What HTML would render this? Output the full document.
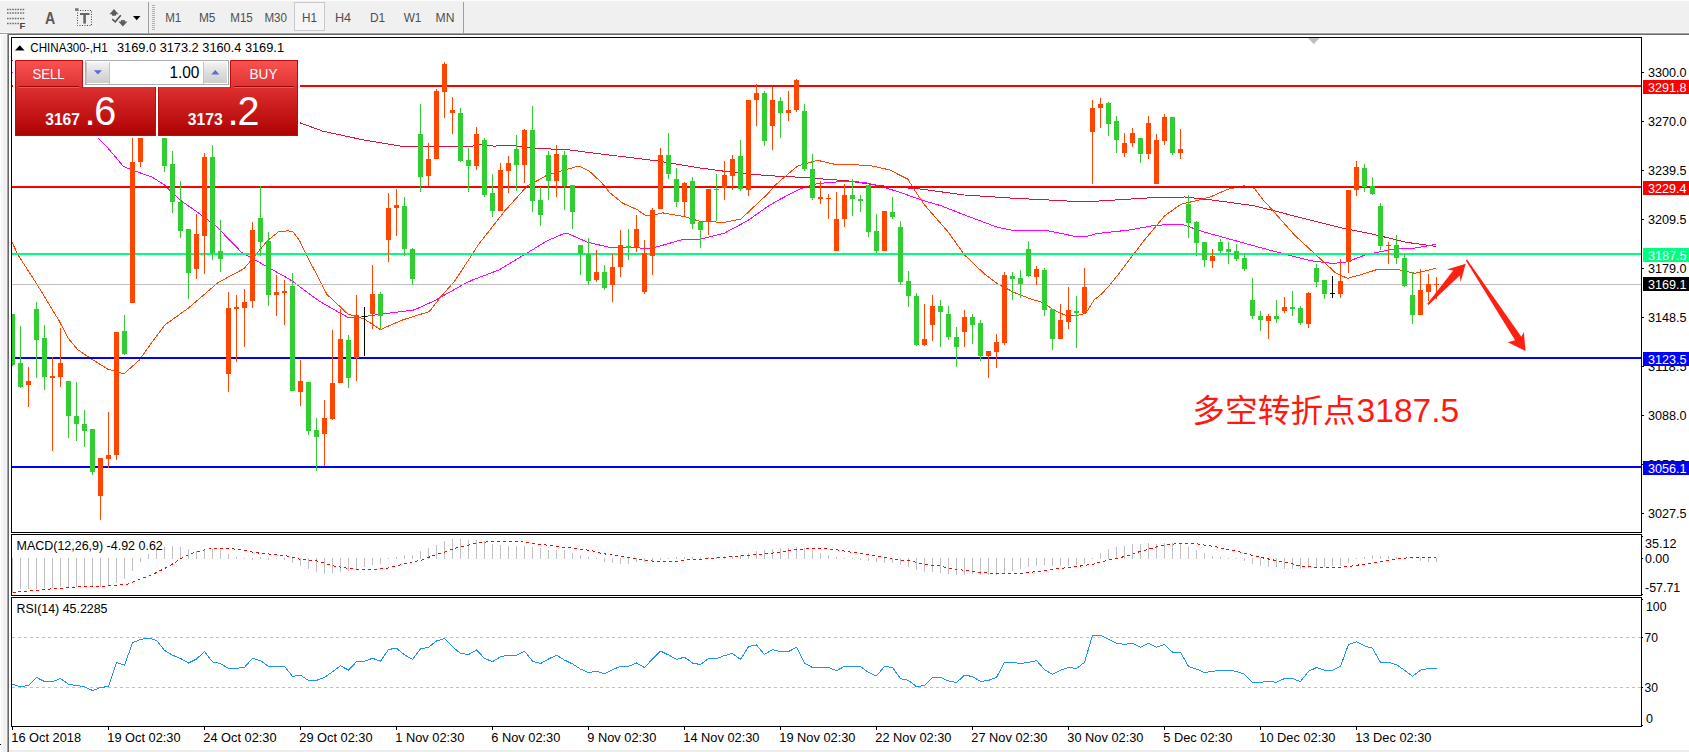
<!DOCTYPE html>
<html lang="zh"><head><meta charset="utf-8"><title>CHINA300-,H1</title>
<style>html,body{margin:0;padding:0;background:#fff;overflow:hidden}svg{display:block}text{font-family:"Liberation Sans","Noto Sans CJK SC",sans-serif;white-space:pre}.c{shape-rendering:crispEdges}</style></head><body>
<svg width="1689" height="752" viewBox="0 0 1689 752">
<defs>
<linearGradient id="gb" x1="0" y1="0" x2="0" y2="1"><stop offset="0" stop-color="#fb5252"/><stop offset="1" stop-color="#de3232"/></linearGradient>
<linearGradient id="gp" x1="0" y1="0" x2="0" y2="1"><stop offset="0" stop-color="#dd3030"/><stop offset="0.5" stop-color="#c61818"/><stop offset="1" stop-color="#ad0202"/></linearGradient>
<linearGradient id="gs" x1="0" y1="0" x2="0" y2="1"><stop offset="0" stop-color="#f4f4f4"/><stop offset="0.5" stop-color="#dedede"/><stop offset="1" stop-color="#cdcdcd"/></linearGradient>
<clipPath id="cm"><rect x="12" y="38" width="1629" height="494"/></clipPath>
</defs>
<g class="c">
<rect x="0" y="0" width="1689" height="752" fill="#fff"/>
<rect x="0" y="0" width="1689" height="33" fill="#f0f0f0"/>
<rect x="0" y="0" width="1689" height="1" fill="#fcfcfc"/>
<rect x="0" y="32" width="1689" height="1" fill="#f6f6f6"/>
<rect x="0" y="33" width="1689" height="1" fill="#a0a0a0"/>
<rect x="0" y="34" width="1689" height="1" fill="#696969"/>
<rect x="0" y="34" width="7" height="718" fill="#f0f0f0"/>
<rect x="0" y="35" width="1" height="717" fill="#ffffff"/>
<rect x="1" y="35" width="1" height="717" fill="#f5f5f5"/>
<rect x="2" y="35" width="1" height="717" fill="#fafafa"/>
<rect x="0" y="34" width="7" height="1" fill="#ffffff"/>
<rect x="6" y="35" width="1" height="717" fill="#f5f5f5"/>
<rect x="7" y="34" width="1" height="718" fill="#a0a0a0"/>
<rect x="8" y="34" width="1" height="718" fill="#696969"/>
<rect x="9" y="750" width="1680" height="2" fill="#ececec"/>
<rect x="0" y="744" width="1" height="1" fill="#000"/>
<rect x="148" y="2" width="1" height="31" fill="#a0a0a0"/>
<rect x="463" y="2" width="1" height="31" fill="#a0a0a0"/>
<rect x="152" y="5" width="3" height="1" fill="#b0b0b0"/>
<rect x="152" y="7" width="3" height="1" fill="#b0b0b0"/>
<rect x="152" y="9" width="3" height="1" fill="#b0b0b0"/>
<rect x="152" y="11" width="3" height="1" fill="#b0b0b0"/>
<rect x="152" y="13" width="3" height="1" fill="#b0b0b0"/>
<rect x="152" y="15" width="3" height="1" fill="#b0b0b0"/>
<rect x="152" y="17" width="3" height="1" fill="#b0b0b0"/>
<rect x="152" y="19" width="3" height="1" fill="#b0b0b0"/>
<rect x="152" y="21" width="3" height="1" fill="#b0b0b0"/>
<rect x="152" y="23" width="3" height="1" fill="#b0b0b0"/>
<rect x="152" y="25" width="3" height="1" fill="#b0b0b0"/>
<rect x="152" y="27" width="3" height="1" fill="#b0b0b0"/>
<rect x="152" y="29" width="3" height="1" fill="#b0b0b0"/>
<rect x="294" y="2" width="31" height="29" fill="#f6f6f6"/>
<rect x="294.5" y="2.5" width="30" height="28" fill="none" stroke="#c9c9c9" stroke-width="1"/>
</g>
<g fill="none" stroke="#5f5f5f">
<line x1="7" y1="9.5" x2="25" y2="9.5" stroke-width="1.6" stroke-dasharray="1.6 1" stroke="#707070"/>
<line x1="7" y1="13" x2="25" y2="13" stroke-width="1.6" stroke-dasharray="1.6 1" stroke="#707070"/>
<line x1="7" y1="18.5" x2="25" y2="18.5" stroke-width="1.6" stroke-dasharray="1.6 1" stroke="#707070"/>
<line x1="7" y1="23.5" x2="20" y2="23.5" stroke-width="1.6" stroke-dasharray="1.6 1" stroke="#707070"/>
<rect x="77.5" y="10.5" width="14" height="15" stroke-width="1" stroke-dasharray="1 1.5" stroke="#444"/>
<path d="M80 14h9.5" stroke-width="2" stroke="#666"/><path d="M84.6 14v9.6" stroke-width="2.6" stroke="#666"/>
<path d="M112.2 19.2l3 2.6 5.6-6.6" stroke-width="1.6" stroke="#555"/>
</g>
<g fill="#5c5c5c">
<path d="M109.5 14.3l4.5-5.2 4.5 5.2z"/><rect x="112" y="14" width="4" height="1.7"/>
<path d="M118.4 21.6l4.5 4.8 4.5-4.8z"/><rect x="120.9" y="20.1" width="4" height="1.7"/>
<path d="M75 8.2h3.5v2.6h-3.5z" fill="#777"/>
</g>
<path d="M133 16h7.4l-3.7 4.2z" fill="#000"/>
<text x="19.5" y="28.8" font-size="9.5" fill="#444" font-weight="bold">F</text>
<text x="45" y="23.8" font-size="16.5" fill="#5a5a5a" textLength="10.2" lengthAdjust="spacingAndGlyphs" font-weight="bold">A</text>
<text x="165.15" y="22.2" font-size="12" fill="#4f4f4f" textLength="16.1" lengthAdjust="spacingAndGlyphs">M1</text>
<text x="198.95" y="22.2" font-size="12" fill="#4f4f4f" textLength="16.5" lengthAdjust="spacingAndGlyphs">M5</text>
<text x="230.25" y="22.2" font-size="12" fill="#4f4f4f" textLength="22.5" lengthAdjust="spacingAndGlyphs">M15</text>
<text x="264.4" y="22.2" font-size="12" fill="#4f4f4f" textLength="22.6" lengthAdjust="spacingAndGlyphs">M30</text>
<text x="302" y="22.2" font-size="12" fill="#4f4f4f" textLength="15" lengthAdjust="spacingAndGlyphs">H1</text>
<text x="334.9" y="22.2" font-size="12" fill="#4f4f4f" textLength="16.2" lengthAdjust="spacingAndGlyphs">H4</text>
<text x="370" y="22.2" font-size="12" fill="#4f4f4f" textLength="15.2" lengthAdjust="spacingAndGlyphs">D1</text>
<text x="403.65" y="22.2" font-size="12" fill="#4f4f4f" textLength="17.7" lengthAdjust="spacingAndGlyphs">W1</text>
<text x="435.55" y="22.2" font-size="12" fill="#4f4f4f" textLength="18.9" lengthAdjust="spacingAndGlyphs">MN</text>
<g class="c">
<rect x="11" y="37" width="1631" height="1" fill="#000"/>
<rect x="11" y="532" width="1631" height="1" fill="#000"/>
<rect x="11" y="37" width="1" height="496" fill="#000"/>
<rect x="1641" y="37" width="1" height="496" fill="#000"/>
<rect x="11" y="534" width="1631" height="1" fill="#000"/>
<rect x="11" y="595" width="1631" height="1" fill="#000"/>
<rect x="11" y="534" width="1" height="62" fill="#000"/>
<rect x="1641" y="534" width="1" height="62" fill="#000"/>
<rect x="11" y="597" width="1631" height="1" fill="#000"/>
<rect x="11" y="726" width="1631" height="1" fill="#000"/>
<rect x="11" y="597" width="1" height="130" fill="#000"/>
<rect x="1641" y="597" width="1" height="130" fill="#000"/>
</g>
<g clip-path="url(#cm)">
<path d="M1308 38h11.5l-5.75 6.3z" fill="#c0c0c0"/>
<polyline points="12,60 300,122.8 322.9,131.2 362.8,139.8 401,146.1 417.7,146.8 471,146.5 479.2,144.8 494.2,146.1 509.1,145.1 537.4,148.4 568,149.8 601.3,154 657.8,161 701,168.1 734.3,172.6 767.5,175.6 800.8,177.3 834,179.8 848,180.9 881.3,185.8 921.2,189.1 964.4,195 1014.3,198.3 1047.5,199.9 1072.5,201.3 1094.1,201.3 1119.9,199.7 1153.2,197.6 1184.5,197 1211.1,199.9 1254.4,205.8 1294.3,216 1340,227.6 1373.3,234.3 1406.5,242.3 1435.6,246.4" fill="none" stroke="#dc143c" stroke-width="1" class="c"/>
<polyline points="12,72 97.8,137.8 107.8,148 123.6,166.6 131.9,169.9 152.7,177.4 164.3,184.9 181,200.7 197.6,212.3 207.5,219.8 215,225 241.6,252.4 288,278.4 293,281.7 310.4,294.7 321.3,302.4 347.9,317.4 354.5,317.9 381.1,314.1 414.4,309.9 434.3,300.8 445.1,294.7 464.3,283.9 472.6,280 499.2,269.8 524.1,254.8 547.4,240.7 564,233.5 568,233.5 588,242.4 609.6,247.3 634.5,247.3 647.8,249 661.1,245.7 684.4,239 701,239 724.3,233.2 747.6,220.7 767.5,206.6 779.2,199.7 800.8,188.6 817.4,183.6 848,181 864.6,182.5 881.3,186.6 897.9,191.6 921.2,199.9 941.1,205.8 964.4,214.9 997.7,227.4 1014.3,230.7 1047.5,230.7 1075.8,236.5 1085.8,236.5 1097.4,233.5 1128,230.2 1152.9,225.7 1169.6,224.4 1182.9,224.6 1202.8,231.6 1244.4,243.2 1277.7,252.3 1294.3,256.5 1310.9,260.7 1330.9,263.2 1344.2,262.8 1365,255.1 1375.7,252.6 1394.9,248.9 1414.8,248.1 1435.6,244.4" fill="none" stroke="#ff00ff" stroke-width="1" class="c"/>
<polyline points="12.2,242.5 18,255 36.3,283.2 59.5,321.4 67.9,338 77.8,349.7 87.8,356.6 107.8,369.1 123.9,373.8 139.4,360 146,350.5 152.7,341.3 165.1,324.8 188.4,308.1 218.3,282.4 244.1,268.6 267.4,240.8 278.2,232 288,230.7 293,231.9 299.6,240.7 306.3,254.8 319.6,280 327.1,294.7 331.2,298.3 347.9,314.1 364.5,319.1 380.3,329.6 402.7,319.9 429.3,311.6 441,296.6 454.3,281.5 470.9,256.5 477.6,245.7 504.2,211.6 527.4,185.8 539,179.7 547.4,175 568,169 578.8,166.1 589.6,171.4 601.3,182.3 609.6,192.5 622.9,203.3 637.8,209.9 645.3,215.4 654.5,214.9 662.8,212.9 684.4,216.6 699.4,221.2 724.3,222.4 740.9,219.1 755.9,204.9 767.5,194.1 775.8,184.7 789.1,173.1 797.5,166.1 817.4,160.3 835.7,164.5 848,164.5 870,165.5 890,170 899.5,175 907.9,179.2 914.5,190 924.5,204.9 947.8,231.5 964.4,254.8 984.4,273.9 997.7,284 1014.3,292.5 1030.9,299 1042.5,302.4 1052.5,309.1 1064.2,314.9 1075.8,316 1085.8,313.2 1094.1,300 1102.4,293.3 1114,280 1128,261.5 1144.6,239.9 1164.6,215.8 1181.2,204.1 1199.5,200 1211.1,196.6 1227.8,189.2 1244.4,185.8 1254.4,188.3 1262.9,199.7 1269.3,206.6 1294.3,234.9 1315.9,254.8 1335.9,273.1 1347.5,278.3 1360.8,274.8 1377.4,269.4 1396.5,269.2 1403.2,270.6 1414.8,273.3 1435.6,268.5" fill="none" stroke="#ff4500" stroke-width="1" class="c"/>
<g class="c">
<rect x="12" y="85" width="1629" height="2" fill="#ff0000"/>
<rect x="12" y="186" width="1629" height="2" fill="#ff0000"/>
<rect x="12" y="253" width="1629" height="2" fill="#00ff7f"/>
<rect x="12" y="284" width="1629" height="1" fill="#c0c0c0"/>
<rect x="12" y="357" width="1629" height="2" fill="#0000ff"/>
<rect x="12" y="466" width="1629" height="2" fill="#0000ff"/>
</g>
<g class="c">
<rect x="12" y="314" width="1" height="52" fill="#32cd32"/>
<rect x="10" y="314" width="5" height="51" fill="#32cd32"/>
<rect x="20" y="326" width="1" height="62" fill="#32cd32"/>
<rect x="18" y="363" width="5" height="24" fill="#32cd32"/>
<rect x="28" y="367" width="1" height="40" fill="#ff4500"/>
<rect x="26" y="381" width="5" height="4" fill="#ff4500"/>
<rect x="36" y="302" width="1" height="76" fill="#32cd32"/>
<rect x="34" y="309" width="5" height="31" fill="#32cd32"/>
<rect x="44" y="325" width="1" height="65" fill="#32cd32"/>
<rect x="42" y="338" width="5" height="39" fill="#32cd32"/>
<rect x="52" y="357" width="1" height="94" fill="#ff4500"/>
<rect x="50" y="376" width="5" height="2" fill="#ff4500"/>
<rect x="60" y="328" width="1" height="59" fill="#ff4500"/>
<rect x="58" y="363" width="5" height="14" fill="#ff4500"/>
<rect x="68" y="381" width="1" height="57" fill="#32cd32"/>
<rect x="66" y="381" width="5" height="35" fill="#32cd32"/>
<rect x="76" y="382" width="1" height="59" fill="#32cd32"/>
<rect x="74" y="416" width="5" height="8" fill="#32cd32"/>
<rect x="84" y="410" width="1" height="37" fill="#32cd32"/>
<rect x="82" y="424" width="5" height="7" fill="#32cd32"/>
<rect x="92" y="429" width="1" height="46" fill="#32cd32"/>
<rect x="90" y="429" width="5" height="43" fill="#32cd32"/>
<rect x="100" y="458" width="1" height="62" fill="#ff4500"/>
<rect x="98" y="458" width="5" height="38" fill="#ff4500"/>
<rect x="108" y="412" width="1" height="56" fill="#ff4500"/>
<rect x="106" y="455" width="5" height="4" fill="#ff4500"/>
<rect x="116" y="332" width="1" height="128" fill="#ff4500"/>
<rect x="114" y="332" width="5" height="123" fill="#ff4500"/>
<rect x="124" y="315" width="1" height="40" fill="#32cd32"/>
<rect x="122" y="331" width="5" height="23" fill="#32cd32"/>
<rect x="132" y="118" width="1" height="185" fill="#ff4500"/>
<rect x="130" y="162" width="5" height="141" fill="#ff4500"/>
<rect x="140" y="100" width="1" height="67" fill="#ff4500"/>
<rect x="138" y="110" width="5" height="52" fill="#ff4500"/>
<rect x="148" y="88" width="1" height="46" fill="#32cd32"/>
<rect x="146" y="96" width="5" height="32" fill="#32cd32"/>
<rect x="156" y="100" width="1" height="37" fill="#32cd32"/>
<rect x="154" y="118" width="5" height="18" fill="#32cd32"/>
<rect x="164" y="120" width="1" height="52" fill="#32cd32"/>
<rect x="162" y="128" width="5" height="38" fill="#32cd32"/>
<rect x="172" y="151" width="1" height="62" fill="#32cd32"/>
<rect x="170" y="164" width="5" height="38" fill="#32cd32"/>
<rect x="180" y="181" width="1" height="57" fill="#32cd32"/>
<rect x="178" y="202" width="5" height="29" fill="#32cd32"/>
<rect x="188" y="229" width="1" height="70" fill="#32cd32"/>
<rect x="186" y="229" width="5" height="44" fill="#32cd32"/>
<rect x="196" y="214" width="1" height="65" fill="#ff4500"/>
<rect x="194" y="234" width="5" height="35" fill="#ff4500"/>
<rect x="204" y="153" width="1" height="121" fill="#ff4500"/>
<rect x="202" y="157" width="5" height="79" fill="#ff4500"/>
<rect x="212" y="145" width="1" height="115" fill="#32cd32"/>
<rect x="210" y="157" width="5" height="96" fill="#32cd32"/>
<rect x="220" y="220" width="1" height="52" fill="#32cd32"/>
<rect x="218" y="251" width="5" height="8" fill="#32cd32"/>
<rect x="228" y="292" width="1" height="100" fill="#ff4500"/>
<rect x="226" y="308" width="5" height="66" fill="#ff4500"/>
<rect x="236" y="295" width="1" height="67" fill="#ff4500"/>
<rect x="234" y="307" width="5" height="2" fill="#ff4500"/>
<rect x="244" y="289" width="1" height="58" fill="#ff4500"/>
<rect x="242" y="302" width="5" height="6" fill="#ff4500"/>
<rect x="252" y="222" width="1" height="86" fill="#ff4500"/>
<rect x="250" y="230" width="5" height="71" fill="#ff4500"/>
<rect x="260" y="186" width="1" height="70" fill="#32cd32"/>
<rect x="258" y="218" width="5" height="24" fill="#32cd32"/>
<rect x="268" y="232" width="1" height="74" fill="#32cd32"/>
<rect x="266" y="241" width="5" height="54" fill="#32cd32"/>
<rect x="276" y="275" width="1" height="41" fill="#ff4500"/>
<rect x="274" y="292" width="5" height="3" fill="#ff4500"/>
<rect x="284" y="280" width="1" height="45" fill="#ff4500"/>
<rect x="282" y="291" width="5" height="2" fill="#ff4500"/>
<rect x="292" y="273" width="1" height="118" fill="#32cd32"/>
<rect x="290" y="286" width="5" height="105" fill="#32cd32"/>
<rect x="300" y="360" width="1" height="46" fill="#ff4500"/>
<rect x="298" y="381" width="5" height="11" fill="#ff4500"/>
<rect x="308" y="382" width="1" height="53" fill="#32cd32"/>
<rect x="306" y="382" width="5" height="49" fill="#32cd32"/>
<rect x="316" y="418" width="1" height="53" fill="#32cd32"/>
<rect x="314" y="430" width="5" height="7" fill="#32cd32"/>
<rect x="324" y="400" width="1" height="66" fill="#ff4500"/>
<rect x="322" y="418" width="5" height="16" fill="#ff4500"/>
<rect x="332" y="330" width="1" height="90" fill="#ff4500"/>
<rect x="330" y="383" width="5" height="36" fill="#ff4500"/>
<rect x="340" y="309" width="1" height="74" fill="#ff4500"/>
<rect x="338" y="339" width="5" height="44" fill="#ff4500"/>
<rect x="348" y="335" width="1" height="53" fill="#32cd32"/>
<rect x="346" y="340" width="5" height="38" fill="#32cd32"/>
<rect x="356" y="295" width="1" height="86" fill="#ff4500"/>
<rect x="354" y="315" width="5" height="43" fill="#ff4500"/>
<rect x="364" y="307" width="1" height="49" fill="#000000"/>
<rect x="362" y="316" width="5" height="1" fill="#000000"/>
<rect x="372" y="265" width="1" height="64" fill="#ff4500"/>
<rect x="370" y="294" width="5" height="20" fill="#ff4500"/>
<rect x="380" y="292" width="1" height="38" fill="#32cd32"/>
<rect x="378" y="294" width="5" height="22" fill="#32cd32"/>
<rect x="388" y="193" width="1" height="69" fill="#ff4500"/>
<rect x="386" y="208" width="5" height="32" fill="#ff4500"/>
<rect x="396" y="189" width="1" height="47" fill="#ff4500"/>
<rect x="394" y="205" width="5" height="3" fill="#ff4500"/>
<rect x="404" y="197" width="1" height="59" fill="#32cd32"/>
<rect x="402" y="206" width="5" height="43" fill="#32cd32"/>
<rect x="412" y="248" width="1" height="37" fill="#32cd32"/>
<rect x="410" y="249" width="5" height="30" fill="#32cd32"/>
<rect x="420" y="104" width="1" height="88" fill="#32cd32"/>
<rect x="418" y="134" width="5" height="43" fill="#32cd32"/>
<rect x="428" y="143" width="1" height="43" fill="#ff4500"/>
<rect x="426" y="159" width="5" height="17" fill="#ff4500"/>
<rect x="436" y="89" width="1" height="70" fill="#ff4500"/>
<rect x="434" y="91" width="5" height="68" fill="#ff4500"/>
<rect x="444" y="62" width="1" height="56" fill="#ff4500"/>
<rect x="442" y="64" width="5" height="28" fill="#ff4500"/>
<rect x="452" y="97" width="1" height="37" fill="#ff4500"/>
<rect x="450" y="110" width="5" height="3" fill="#ff4500"/>
<rect x="460" y="108" width="1" height="54" fill="#32cd32"/>
<rect x="458" y="113" width="5" height="48" fill="#32cd32"/>
<rect x="468" y="148" width="1" height="44" fill="#32cd32"/>
<rect x="466" y="160" width="5" height="6" fill="#32cd32"/>
<rect x="476" y="127" width="1" height="43" fill="#ff4500"/>
<rect x="474" y="134" width="5" height="32" fill="#ff4500"/>
<rect x="484" y="138" width="1" height="59" fill="#32cd32"/>
<rect x="482" y="140" width="5" height="55" fill="#32cd32"/>
<rect x="492" y="174" width="1" height="43" fill="#32cd32"/>
<rect x="490" y="193" width="5" height="18" fill="#32cd32"/>
<rect x="500" y="163" width="1" height="48" fill="#ff4500"/>
<rect x="498" y="170" width="5" height="41" fill="#ff4500"/>
<rect x="508" y="156" width="1" height="37" fill="#ff4500"/>
<rect x="506" y="163" width="5" height="8" fill="#ff4500"/>
<rect x="516" y="135" width="1" height="56" fill="#32cd32"/>
<rect x="514" y="149" width="5" height="16" fill="#32cd32"/>
<rect x="524" y="129" width="1" height="54" fill="#ff4500"/>
<rect x="522" y="130" width="5" height="35" fill="#ff4500"/>
<rect x="532" y="106" width="1" height="106" fill="#32cd32"/>
<rect x="530" y="130" width="5" height="71" fill="#32cd32"/>
<rect x="540" y="187" width="1" height="39" fill="#32cd32"/>
<rect x="538" y="200" width="5" height="15" fill="#32cd32"/>
<rect x="548" y="151" width="1" height="49" fill="#32cd32"/>
<rect x="546" y="155" width="5" height="26" fill="#32cd32"/>
<rect x="556" y="145" width="1" height="52" fill="#ff4500"/>
<rect x="554" y="154" width="5" height="27" fill="#ff4500"/>
<rect x="564" y="151" width="1" height="59" fill="#32cd32"/>
<rect x="562" y="155" width="5" height="31" fill="#32cd32"/>
<rect x="572" y="185" width="1" height="44" fill="#32cd32"/>
<rect x="570" y="185" width="5" height="27" fill="#32cd32"/>
<rect x="580" y="245" width="1" height="30" fill="#32cd32"/>
<rect x="578" y="245" width="5" height="9" fill="#32cd32"/>
<rect x="588" y="238" width="1" height="47" fill="#32cd32"/>
<rect x="586" y="254" width="5" height="27" fill="#32cd32"/>
<rect x="596" y="250" width="1" height="32" fill="#ff4500"/>
<rect x="594" y="272" width="5" height="8" fill="#ff4500"/>
<rect x="604" y="265" width="1" height="25" fill="#32cd32"/>
<rect x="602" y="272" width="5" height="16" fill="#32cd32"/>
<rect x="612" y="254" width="1" height="48" fill="#ff4500"/>
<rect x="610" y="267" width="5" height="18" fill="#ff4500"/>
<rect x="620" y="230" width="1" height="47" fill="#ff4500"/>
<rect x="618" y="245" width="5" height="22" fill="#ff4500"/>
<rect x="628" y="229" width="1" height="31" fill="#32cd32"/>
<rect x="626" y="246" width="5" height="2" fill="#32cd32"/>
<rect x="636" y="215" width="1" height="37" fill="#ff4500"/>
<rect x="634" y="229" width="5" height="18" fill="#ff4500"/>
<rect x="644" y="240" width="1" height="54" fill="#ff4500"/>
<rect x="642" y="253" width="5" height="39" fill="#ff4500"/>
<rect x="652" y="208" width="1" height="67" fill="#ff4500"/>
<rect x="650" y="210" width="5" height="46" fill="#ff4500"/>
<rect x="660" y="148" width="1" height="61" fill="#ff4500"/>
<rect x="658" y="155" width="5" height="54" fill="#ff4500"/>
<rect x="668" y="133" width="1" height="46" fill="#32cd32"/>
<rect x="666" y="155" width="5" height="19" fill="#32cd32"/>
<rect x="676" y="168" width="1" height="39" fill="#32cd32"/>
<rect x="674" y="179" width="5" height="23" fill="#32cd32"/>
<rect x="684" y="182" width="1" height="34" fill="#ff4500"/>
<rect x="682" y="183" width="5" height="19" fill="#ff4500"/>
<rect x="692" y="177" width="1" height="52" fill="#32cd32"/>
<rect x="690" y="181" width="5" height="43" fill="#32cd32"/>
<rect x="700" y="222" width="1" height="26" fill="#32cd32"/>
<rect x="698" y="222" width="5" height="8" fill="#32cd32"/>
<rect x="708" y="189" width="1" height="46" fill="#ff4500"/>
<rect x="706" y="189" width="5" height="33" fill="#ff4500"/>
<rect x="716" y="174" width="1" height="47" fill="#32cd32"/>
<rect x="714" y="189" width="5" height="1" fill="#32cd32"/>
<rect x="724" y="161" width="1" height="39" fill="#ff4500"/>
<rect x="722" y="175" width="5" height="13" fill="#ff4500"/>
<rect x="732" y="155" width="1" height="35" fill="#ff4500"/>
<rect x="730" y="159" width="5" height="17" fill="#ff4500"/>
<rect x="740" y="140" width="1" height="51" fill="#32cd32"/>
<rect x="738" y="156" width="5" height="33" fill="#32cd32"/>
<rect x="748" y="100" width="1" height="96" fill="#ff4500"/>
<rect x="746" y="100" width="5" height="90" fill="#ff4500"/>
<rect x="756" y="84" width="1" height="42" fill="#ff4500"/>
<rect x="754" y="93" width="5" height="7" fill="#ff4500"/>
<rect x="764" y="91" width="1" height="55" fill="#32cd32"/>
<rect x="762" y="93" width="5" height="48" fill="#32cd32"/>
<rect x="772" y="87" width="1" height="63" fill="#ff4500"/>
<rect x="770" y="100" width="5" height="26" fill="#ff4500"/>
<rect x="780" y="97" width="1" height="41" fill="#32cd32"/>
<rect x="778" y="101" width="5" height="12" fill="#32cd32"/>
<rect x="788" y="91" width="1" height="30" fill="#ff4500"/>
<rect x="786" y="110" width="5" height="3" fill="#ff4500"/>
<rect x="796" y="79" width="1" height="33" fill="#ff4500"/>
<rect x="794" y="80" width="5" height="30" fill="#ff4500"/>
<rect x="804" y="104" width="1" height="67" fill="#32cd32"/>
<rect x="802" y="111" width="5" height="58" fill="#32cd32"/>
<rect x="812" y="154" width="1" height="46" fill="#32cd32"/>
<rect x="810" y="169" width="5" height="29" fill="#32cd32"/>
<rect x="820" y="181" width="1" height="23" fill="#ff4500"/>
<rect x="818" y="197" width="5" height="2" fill="#ff4500"/>
<rect x="828" y="194" width="1" height="25" fill="#ff4500"/>
<rect x="826" y="198" width="5" height="1" fill="#ff4500"/>
<rect x="836" y="192" width="1" height="59" fill="#ff4500"/>
<rect x="834" y="219" width="5" height="32" fill="#ff4500"/>
<rect x="844" y="184" width="1" height="43" fill="#ff4500"/>
<rect x="842" y="195" width="5" height="24" fill="#ff4500"/>
<rect x="852" y="179" width="1" height="37" fill="#32cd32"/>
<rect x="850" y="195" width="5" height="4" fill="#32cd32"/>
<rect x="860" y="195" width="1" height="17" fill="#32cd32"/>
<rect x="858" y="199" width="5" height="2" fill="#32cd32"/>
<rect x="868" y="185" width="1" height="52" fill="#32cd32"/>
<rect x="866" y="185" width="5" height="47" fill="#32cd32"/>
<rect x="876" y="214" width="1" height="39" fill="#32cd32"/>
<rect x="874" y="231" width="5" height="20" fill="#32cd32"/>
<rect x="884" y="211" width="1" height="40" fill="#ff4500"/>
<rect x="882" y="211" width="5" height="40" fill="#ff4500"/>
<rect x="892" y="197" width="1" height="22" fill="#32cd32"/>
<rect x="890" y="212" width="5" height="5" fill="#32cd32"/>
<rect x="900" y="221" width="1" height="64" fill="#32cd32"/>
<rect x="898" y="227" width="5" height="55" fill="#32cd32"/>
<rect x="908" y="271" width="1" height="36" fill="#32cd32"/>
<rect x="906" y="281" width="5" height="15" fill="#32cd32"/>
<rect x="916" y="293" width="1" height="53" fill="#32cd32"/>
<rect x="914" y="296" width="5" height="49" fill="#32cd32"/>
<rect x="924" y="304" width="1" height="42" fill="#ff4500"/>
<rect x="922" y="339" width="5" height="6" fill="#ff4500"/>
<rect x="932" y="295" width="1" height="46" fill="#ff4500"/>
<rect x="930" y="306" width="5" height="19" fill="#ff4500"/>
<rect x="940" y="300" width="1" height="47" fill="#32cd32"/>
<rect x="938" y="306" width="5" height="6" fill="#32cd32"/>
<rect x="948" y="306" width="1" height="34" fill="#32cd32"/>
<rect x="946" y="314" width="5" height="23" fill="#32cd32"/>
<rect x="956" y="327" width="1" height="40" fill="#32cd32"/>
<rect x="954" y="337" width="5" height="10" fill="#32cd32"/>
<rect x="964" y="310" width="1" height="37" fill="#ff4500"/>
<rect x="962" y="317" width="5" height="15" fill="#ff4500"/>
<rect x="972" y="314" width="1" height="30" fill="#32cd32"/>
<rect x="970" y="317" width="5" height="8" fill="#32cd32"/>
<rect x="980" y="320" width="1" height="41" fill="#32cd32"/>
<rect x="978" y="323" width="5" height="33" fill="#32cd32"/>
<rect x="988" y="351" width="1" height="27" fill="#ff4500"/>
<rect x="986" y="351" width="5" height="5" fill="#ff4500"/>
<rect x="996" y="334" width="1" height="34" fill="#ff4500"/>
<rect x="994" y="342" width="5" height="10" fill="#ff4500"/>
<rect x="1004" y="272" width="1" height="73" fill="#ff4500"/>
<rect x="1002" y="275" width="5" height="68" fill="#ff4500"/>
<rect x="1012" y="272" width="1" height="28" fill="#32cd32"/>
<rect x="1010" y="276" width="5" height="3" fill="#32cd32"/>
<rect x="1020" y="270" width="1" height="28" fill="#32cd32"/>
<rect x="1018" y="278" width="5" height="6" fill="#32cd32"/>
<rect x="1028" y="241" width="1" height="36" fill="#32cd32"/>
<rect x="1026" y="249" width="5" height="27" fill="#32cd32"/>
<rect x="1036" y="266" width="1" height="19" fill="#ff4500"/>
<rect x="1034" y="269" width="5" height="8" fill="#ff4500"/>
<rect x="1044" y="268" width="1" height="48" fill="#32cd32"/>
<rect x="1042" y="270" width="5" height="40" fill="#32cd32"/>
<rect x="1052" y="309" width="1" height="41" fill="#32cd32"/>
<rect x="1050" y="309" width="5" height="30" fill="#32cd32"/>
<rect x="1060" y="304" width="1" height="35" fill="#ff4500"/>
<rect x="1058" y="320" width="5" height="19" fill="#ff4500"/>
<rect x="1068" y="287" width="1" height="42" fill="#ff4500"/>
<rect x="1066" y="310" width="5" height="12" fill="#ff4500"/>
<rect x="1076" y="296" width="1" height="52" fill="#32cd32"/>
<rect x="1074" y="311" width="5" height="2" fill="#32cd32"/>
<rect x="1084" y="268" width="1" height="45" fill="#ff4500"/>
<rect x="1082" y="287" width="5" height="26" fill="#ff4500"/>
<rect x="1092" y="100" width="1" height="84" fill="#ff4500"/>
<rect x="1090" y="108" width="5" height="24" fill="#ff4500"/>
<rect x="1100" y="98" width="1" height="30" fill="#ff4500"/>
<rect x="1098" y="104" width="5" height="4" fill="#ff4500"/>
<rect x="1108" y="102" width="1" height="34" fill="#32cd32"/>
<rect x="1106" y="103" width="5" height="21" fill="#32cd32"/>
<rect x="1116" y="116" width="1" height="37" fill="#32cd32"/>
<rect x="1114" y="121" width="5" height="19" fill="#32cd32"/>
<rect x="1124" y="133" width="1" height="24" fill="#ff4500"/>
<rect x="1122" y="143" width="5" height="10" fill="#ff4500"/>
<rect x="1132" y="128" width="1" height="19" fill="#ff4500"/>
<rect x="1130" y="133" width="5" height="10" fill="#ff4500"/>
<rect x="1140" y="138" width="1" height="25" fill="#32cd32"/>
<rect x="1138" y="138" width="5" height="16" fill="#32cd32"/>
<rect x="1148" y="116" width="1" height="43" fill="#ff4500"/>
<rect x="1146" y="123" width="5" height="31" fill="#ff4500"/>
<rect x="1156" y="134" width="1" height="50" fill="#ff4500"/>
<rect x="1154" y="140" width="5" height="44" fill="#ff4500"/>
<rect x="1164" y="114" width="1" height="31" fill="#ff4500"/>
<rect x="1162" y="117" width="5" height="24" fill="#ff4500"/>
<rect x="1172" y="117" width="1" height="38" fill="#32cd32"/>
<rect x="1170" y="117" width="5" height="36" fill="#32cd32"/>
<rect x="1180" y="129" width="1" height="30" fill="#ff4500"/>
<rect x="1178" y="149" width="5" height="4" fill="#ff4500"/>
<rect x="1188" y="195" width="1" height="43" fill="#32cd32"/>
<rect x="1186" y="204" width="5" height="19" fill="#32cd32"/>
<rect x="1196" y="221" width="1" height="35" fill="#32cd32"/>
<rect x="1194" y="222" width="5" height="21" fill="#32cd32"/>
<rect x="1204" y="242" width="1" height="25" fill="#32cd32"/>
<rect x="1202" y="242" width="5" height="18" fill="#32cd32"/>
<rect x="1212" y="249" width="1" height="19" fill="#ff4500"/>
<rect x="1210" y="256" width="5" height="5" fill="#ff4500"/>
<rect x="1220" y="239" width="1" height="14" fill="#32cd32"/>
<rect x="1218" y="242" width="5" height="9" fill="#32cd32"/>
<rect x="1228" y="242" width="1" height="22" fill="#32cd32"/>
<rect x="1226" y="249" width="5" height="3" fill="#32cd32"/>
<rect x="1236" y="244" width="1" height="17" fill="#32cd32"/>
<rect x="1234" y="251" width="5" height="8" fill="#32cd32"/>
<rect x="1244" y="254" width="1" height="17" fill="#32cd32"/>
<rect x="1242" y="258" width="5" height="11" fill="#32cd32"/>
<rect x="1252" y="278" width="1" height="41" fill="#32cd32"/>
<rect x="1250" y="300" width="5" height="16" fill="#32cd32"/>
<rect x="1260" y="311" width="1" height="20" fill="#32cd32"/>
<rect x="1258" y="316" width="5" height="4" fill="#32cd32"/>
<rect x="1268" y="314" width="1" height="25" fill="#ff4500"/>
<rect x="1266" y="316" width="5" height="5" fill="#ff4500"/>
<rect x="1276" y="300" width="1" height="23" fill="#32cd32"/>
<rect x="1274" y="316" width="5" height="3" fill="#32cd32"/>
<rect x="1284" y="297" width="1" height="16" fill="#ff4500"/>
<rect x="1282" y="307" width="5" height="4" fill="#ff4500"/>
<rect x="1292" y="291" width="1" height="25" fill="#32cd32"/>
<rect x="1290" y="307" width="5" height="2" fill="#32cd32"/>
<rect x="1300" y="306" width="1" height="19" fill="#32cd32"/>
<rect x="1298" y="308" width="5" height="15" fill="#32cd32"/>
<rect x="1308" y="292" width="1" height="36" fill="#ff4500"/>
<rect x="1306" y="293" width="5" height="31" fill="#ff4500"/>
<rect x="1316" y="264" width="1" height="23" fill="#32cd32"/>
<rect x="1314" y="268" width="5" height="14" fill="#32cd32"/>
<rect x="1324" y="280" width="1" height="19" fill="#32cd32"/>
<rect x="1322" y="280" width="5" height="14" fill="#32cd32"/>
<rect x="1332" y="276" width="1" height="22" fill="#000000"/>
<rect x="1330" y="293" width="5" height="1" fill="#000000"/>
<rect x="1340" y="259" width="1" height="39" fill="#ff4500"/>
<rect x="1338" y="281" width="5" height="13" fill="#ff4500"/>
<rect x="1348" y="190" width="1" height="83" fill="#ff4500"/>
<rect x="1346" y="190" width="5" height="72" fill="#ff4500"/>
<rect x="1356" y="161" width="1" height="35" fill="#ff4500"/>
<rect x="1354" y="167" width="5" height="23" fill="#ff4500"/>
<rect x="1364" y="164" width="1" height="28" fill="#32cd32"/>
<rect x="1362" y="168" width="5" height="19" fill="#32cd32"/>
<rect x="1372" y="177" width="1" height="18" fill="#32cd32"/>
<rect x="1370" y="186" width="5" height="8" fill="#32cd32"/>
<rect x="1380" y="203" width="1" height="47" fill="#32cd32"/>
<rect x="1378" y="206" width="5" height="40" fill="#32cd32"/>
<rect x="1388" y="242" width="1" height="22" fill="#ff4500"/>
<rect x="1386" y="245" width="5" height="1" fill="#ff4500"/>
<rect x="1396" y="235" width="1" height="29" fill="#32cd32"/>
<rect x="1394" y="245" width="5" height="13" fill="#32cd32"/>
<rect x="1404" y="254" width="1" height="33" fill="#32cd32"/>
<rect x="1402" y="258" width="5" height="28" fill="#32cd32"/>
<rect x="1412" y="272" width="1" height="52" fill="#32cd32"/>
<rect x="1410" y="295" width="5" height="20" fill="#32cd32"/>
<rect x="1420" y="269" width="1" height="46" fill="#ff4500"/>
<rect x="1418" y="290" width="5" height="25" fill="#ff4500"/>
<rect x="1428" y="274" width="1" height="27" fill="#ff4500"/>
<rect x="1426" y="284" width="5" height="8" fill="#ff4500"/>
<rect x="1436" y="277" width="1" height="22" fill="#ff4500"/>
<rect x="1434" y="284" width="5" height="1" fill="#ff4500"/>
</g>
<text x="1192.3" y="421.5" font-size="32" fill="#ff1a10" textLength="163.5" lengthAdjust="spacingAndGlyphs">多空转折点</text>
<text x="1356.6" y="421.5" font-size="32.5" fill="#ff1a10" textLength="102.6" lengthAdjust="spacingAndGlyphs">3187.5</text>
<path d="M1427.3 303.7L1453.2 270.4L1446.8 269.5L1465.7 263.7L1460.6 281.9L1459.8 275.6L1428.5 305Z" fill="#ff2014"/>
<path d="M1465.8 260.4L1467.1 259.5L1521.4 336.8L1523.9 332.1L1525.5 351L1507.8 342.3L1515.1 340.3Z" fill="#ff2014"/>
<g class="c">
<rect x="13" y="58" width="287" height="80" fill="#fff"/>
<rect x="15" y="60" width="68" height="28" fill="url(#gb)"/>
<rect x="230" y="60" width="68" height="28" fill="url(#gb)"/>
<rect x="15" y="87" width="141" height="49" fill="url(#gp)"/>
<rect x="158" y="87" width="140" height="49" fill="url(#gp)"/>
<path d="M15.5 60.5v75h140v-48.5M82.5 60.5v27M15.5 60.5h67" fill="none" stroke="#b80e0e" stroke-width="1"/>
<path d="M297.5 60.5v75h-139v-48.5M230.5 60.5v27M230.5 60.5h67" fill="none" stroke="#b80e0e" stroke-width="1"/>
<rect x="19" y="86" width="60" height="1" fill="#9c0606"/>
<rect x="19" y="87" width="60" height="1" fill="#ee5a5a"/>
<rect x="234" y="86" width="60" height="1" fill="#9c0606"/>
<rect x="234" y="87" width="60" height="1" fill="#ee5a5a"/>
<rect x="85" y="60" width="144" height="25" fill="#fff"/>
<rect x="85.5" y="60.5" width="143" height="24" fill="none" stroke="#abadb3"/>
<rect x="87" y="62" width="22" height="21" fill="url(#gs)"/>
<rect x="204" y="62" width="23" height="21" fill="url(#gs)"/>
<path d="M86.5 61.5v22M109.5 61.5v22M203.5 61.5v22" fill="none" stroke="#c4c4c8"/>
</g>
<path d="M93.8 70.2h8.2l-4.1 4.4z" fill="#5a6fcf"/>
<path d="M211.2 74.4h8.2l-4.1-4.4z" fill="#5a6fcf"/>
<text x="32.5" y="79.3" font-size="15.5" fill="#fff" textLength="32" lengthAdjust="spacingAndGlyphs">SELL</text>
<text x="249.5" y="79.3" font-size="15.5" fill="#fff" textLength="28" lengthAdjust="spacingAndGlyphs">BUY</text>
<text x="199.4" y="78" font-size="15.8" fill="#000" text-anchor="end" textLength="30" lengthAdjust="spacingAndGlyphs">1.00</text>
<text x="45.2" y="125" font-size="15.8" fill="#fff" textLength="34.8" lengthAdjust="spacingAndGlyphs" font-weight="bold">3167</text>
<text x="187.8" y="125" font-size="15.8" fill="#fff" textLength="34.8" lengthAdjust="spacingAndGlyphs" font-weight="bold">3173</text>
<text x="84.6" y="125" font-size="40" fill="#fff">.</text>
<text x="227.6" y="125" font-size="40" fill="#fff">.</text>
<text x="94.2" y="125" font-size="41" fill="#fff" textLength="22" lengthAdjust="spacingAndGlyphs">6</text>
<text x="237.4" y="125" font-size="41" fill="#fff" textLength="22" lengthAdjust="spacingAndGlyphs">2</text>
</g>
<path d="M15 50.5h9.6l-4.8-5.2z" fill="#000"/>
<text x="30.3" y="52" font-size="12.5" fill="#000" textLength="77.4" lengthAdjust="spacingAndGlyphs">CHINA300-,H1</text>
<text x="117" y="52" font-size="12.5" fill="#000" textLength="167" lengthAdjust="spacingAndGlyphs">3169.0 3173.2 3160.4 3169.1</text>
<g class="c">
<rect x="1642" y="72" width="2" height="1" fill="#000"/>
<rect x="1642" y="121" width="2" height="1" fill="#000"/>
<rect x="1642" y="170" width="2" height="1" fill="#000"/>
<rect x="1642" y="219" width="2" height="1" fill="#000"/>
<rect x="1642" y="268" width="2" height="1" fill="#000"/>
<rect x="1642" y="317" width="2" height="1" fill="#000"/>
<rect x="1642" y="366" width="2" height="1" fill="#000"/>
<rect x="1642" y="415" width="2" height="1" fill="#000"/>
<rect x="1642" y="464" width="2" height="1" fill="#000"/>
<rect x="1642" y="513" width="2" height="1" fill="#000"/>
</g>
<text x="1648" y="76.6" font-size="12.5" fill="#000" textLength="38.6" lengthAdjust="spacingAndGlyphs">3300.0</text>
<text x="1648" y="125.6" font-size="12.5" fill="#000" textLength="38.6" lengthAdjust="spacingAndGlyphs">3270.0</text>
<text x="1648" y="174.6" font-size="12.5" fill="#000" textLength="38.6" lengthAdjust="spacingAndGlyphs">3239.5</text>
<text x="1648" y="223.6" font-size="12.5" fill="#000" textLength="38.6" lengthAdjust="spacingAndGlyphs">3209.5</text>
<text x="1648" y="272.6" font-size="12.5" fill="#000" textLength="38.6" lengthAdjust="spacingAndGlyphs">3179.0</text>
<text x="1648" y="321.6" font-size="12.5" fill="#000" textLength="38.6" lengthAdjust="spacingAndGlyphs">3148.5</text>
<text x="1648" y="370.6" font-size="12.5" fill="#000" textLength="38.6" lengthAdjust="spacingAndGlyphs">3118.5</text>
<text x="1648" y="419.6" font-size="12.5" fill="#000" textLength="38.6" lengthAdjust="spacingAndGlyphs">3088.0</text>
<text x="1648" y="468.6" font-size="12.5" fill="#000" textLength="38.6" lengthAdjust="spacingAndGlyphs">3058.0</text>
<text x="1648" y="517.6" font-size="12.5" fill="#000" textLength="38.6" lengthAdjust="spacingAndGlyphs">3027.5</text>
<g class="c">
<rect x="1643" y="80" width="46" height="14" fill="#ff0000"/>
<rect x="1643" y="181" width="46" height="14" fill="#ff0000"/>
<rect x="1643" y="248" width="46" height="14" fill="#00ff7f"/>
<rect x="1643" y="277" width="46" height="14" fill="#000000"/>
<rect x="1643" y="352" width="46" height="14" fill="#0000ff"/>
<rect x="1643" y="461" width="46" height="14" fill="#0000ff"/>
</g>
<text x="1648" y="91.6" font-size="12.5" fill="#fff" textLength="38.6" lengthAdjust="spacingAndGlyphs">3291.8</text>
<text x="1648" y="192.6" font-size="12.5" fill="#fff" textLength="38.6" lengthAdjust="spacingAndGlyphs">3229.4</text>
<text x="1648" y="259.6" font-size="12.5" fill="#fff" textLength="38.6" lengthAdjust="spacingAndGlyphs">3187.5</text>
<text x="1648" y="288.6" font-size="12.5" fill="#fff" textLength="38.6" lengthAdjust="spacingAndGlyphs">3169.1</text>
<text x="1648" y="363.6" font-size="12.5" fill="#fff" textLength="38.6" lengthAdjust="spacingAndGlyphs">3123.5</text>
<text x="1648" y="472.6" font-size="12.5" fill="#fff" textLength="38.6" lengthAdjust="spacingAndGlyphs">3056.1</text>
<g class="c">
<rect x="12" y="558" width="1" height="35" fill="#c0c0c0"/>
<rect x="20" y="558" width="1" height="31" fill="#c0c0c0"/>
<rect x="28" y="558" width="1" height="31" fill="#c0c0c0"/>
<rect x="36" y="558" width="1" height="31" fill="#c0c0c0"/>
<rect x="44" y="558" width="1" height="30" fill="#c0c0c0"/>
<rect x="52" y="558" width="1" height="30" fill="#c0c0c0"/>
<rect x="60" y="558" width="1" height="29" fill="#c0c0c0"/>
<rect x="68" y="558" width="1" height="29" fill="#c0c0c0"/>
<rect x="76" y="558" width="1" height="29" fill="#c0c0c0"/>
<rect x="84" y="558" width="1" height="29" fill="#c0c0c0"/>
<rect x="92" y="558" width="1" height="29" fill="#c0c0c0"/>
<rect x="100" y="558" width="1" height="29" fill="#c0c0c0"/>
<rect x="108" y="558" width="1" height="28" fill="#c0c0c0"/>
<rect x="116" y="558" width="1" height="25" fill="#c0c0c0"/>
<rect x="124" y="558" width="1" height="21" fill="#c0c0c0"/>
<rect x="132" y="558" width="1" height="13" fill="#c0c0c0"/>
<rect x="140" y="558" width="1" height="4" fill="#c0c0c0"/>
<rect x="148" y="554" width="1" height="5" fill="#c0c0c0"/>
<rect x="156" y="550" width="1" height="9" fill="#c0c0c0"/>
<rect x="164" y="547" width="1" height="12" fill="#c0c0c0"/>
<rect x="172" y="546" width="1" height="13" fill="#c0c0c0"/>
<rect x="180" y="547" width="1" height="12" fill="#c0c0c0"/>
<rect x="188" y="549" width="1" height="10" fill="#c0c0c0"/>
<rect x="196" y="551" width="1" height="8" fill="#c0c0c0"/>
<rect x="204" y="550" width="1" height="9" fill="#c0c0c0"/>
<rect x="212" y="549" width="1" height="10" fill="#c0c0c0"/>
<rect x="220" y="550" width="1" height="9" fill="#c0c0c0"/>
<rect x="228" y="554" width="1" height="5" fill="#c0c0c0"/>
<rect x="236" y="557" width="1" height="2" fill="#c0c0c0"/>
<rect x="244" y="558" width="1" height="1" fill="#c0c0c0"/>
<rect x="252" y="558" width="1" height="2" fill="#c0c0c0"/>
<rect x="260" y="557" width="1" height="2" fill="#c0c0c0"/>
<rect x="268" y="558" width="1" height="2" fill="#c0c0c0"/>
<rect x="276" y="558" width="1" height="1" fill="#c0c0c0"/>
<rect x="284" y="558" width="1" height="2" fill="#c0c0c0"/>
<rect x="292" y="558" width="1" height="5" fill="#c0c0c0"/>
<rect x="300" y="558" width="1" height="8" fill="#c0c0c0"/>
<rect x="308" y="558" width="1" height="11" fill="#c0c0c0"/>
<rect x="316" y="558" width="1" height="14" fill="#c0c0c0"/>
<rect x="324" y="558" width="1" height="16" fill="#c0c0c0"/>
<rect x="332" y="558" width="1" height="15" fill="#c0c0c0"/>
<rect x="340" y="558" width="1" height="14" fill="#c0c0c0"/>
<rect x="348" y="558" width="1" height="13" fill="#c0c0c0"/>
<rect x="356" y="558" width="1" height="11" fill="#c0c0c0"/>
<rect x="364" y="558" width="1" height="9" fill="#c0c0c0"/>
<rect x="372" y="558" width="1" height="7" fill="#c0c0c0"/>
<rect x="380" y="558" width="1" height="6" fill="#c0c0c0"/>
<rect x="388" y="558" width="1" height="1" fill="#c0c0c0"/>
<rect x="396" y="557" width="1" height="2" fill="#c0c0c0"/>
<rect x="404" y="555" width="1" height="4" fill="#c0c0c0"/>
<rect x="412" y="555" width="1" height="4" fill="#c0c0c0"/>
<rect x="420" y="551" width="1" height="8" fill="#c0c0c0"/>
<rect x="428" y="548" width="1" height="11" fill="#c0c0c0"/>
<rect x="436" y="545" width="1" height="14" fill="#c0c0c0"/>
<rect x="444" y="541" width="1" height="18" fill="#c0c0c0"/>
<rect x="452" y="539" width="1" height="20" fill="#c0c0c0"/>
<rect x="460" y="539" width="1" height="20" fill="#c0c0c0"/>
<rect x="468" y="540" width="1" height="19" fill="#c0c0c0"/>
<rect x="476" y="540" width="1" height="19" fill="#c0c0c0"/>
<rect x="484" y="541" width="1" height="18" fill="#c0c0c0"/>
<rect x="492" y="544" width="1" height="15" fill="#c0c0c0"/>
<rect x="500" y="545" width="1" height="14" fill="#c0c0c0"/>
<rect x="508" y="546" width="1" height="13" fill="#c0c0c0"/>
<rect x="516" y="546" width="1" height="13" fill="#c0c0c0"/>
<rect x="524" y="546" width="1" height="13" fill="#c0c0c0"/>
<rect x="532" y="547" width="1" height="12" fill="#c0c0c0"/>
<rect x="540" y="548" width="1" height="11" fill="#c0c0c0"/>
<rect x="548" y="550" width="1" height="9" fill="#c0c0c0"/>
<rect x="556" y="550" width="1" height="9" fill="#c0c0c0"/>
<rect x="564" y="550" width="1" height="9" fill="#c0c0c0"/>
<rect x="572" y="553" width="1" height="6" fill="#c0c0c0"/>
<rect x="580" y="555" width="1" height="4" fill="#c0c0c0"/>
<rect x="588" y="557" width="1" height="2" fill="#c0c0c0"/>
<rect x="596" y="558" width="1" height="1" fill="#c0c0c0"/>
<rect x="604" y="558" width="1" height="4" fill="#c0c0c0"/>
<rect x="612" y="558" width="1" height="5" fill="#c0c0c0"/>
<rect x="620" y="558" width="1" height="6" fill="#c0c0c0"/>
<rect x="628" y="558" width="1" height="6" fill="#c0c0c0"/>
<rect x="636" y="558" width="1" height="4" fill="#c0c0c0"/>
<rect x="644" y="558" width="1" height="4" fill="#c0c0c0"/>
<rect x="652" y="558" width="1" height="4" fill="#c0c0c0"/>
<rect x="660" y="558" width="1" height="2" fill="#c0c0c0"/>
<rect x="668" y="558" width="1" height="1" fill="#c0c0c0"/>
<rect x="676" y="557" width="1" height="2" fill="#c0c0c0"/>
<rect x="684" y="557" width="1" height="2" fill="#c0c0c0"/>
<rect x="692" y="557" width="1" height="2" fill="#c0c0c0"/>
<rect x="700" y="557" width="1" height="2" fill="#c0c0c0"/>
<rect x="708" y="557" width="1" height="2" fill="#c0c0c0"/>
<rect x="716" y="557" width="1" height="2" fill="#c0c0c0"/>
<rect x="724" y="556" width="1" height="3" fill="#c0c0c0"/>
<rect x="732" y="556" width="1" height="3" fill="#c0c0c0"/>
<rect x="740" y="555" width="1" height="4" fill="#c0c0c0"/>
<rect x="748" y="553" width="1" height="6" fill="#c0c0c0"/>
<rect x="756" y="551" width="1" height="8" fill="#c0c0c0"/>
<rect x="764" y="550" width="1" height="9" fill="#c0c0c0"/>
<rect x="772" y="549" width="1" height="10" fill="#c0c0c0"/>
<rect x="780" y="548" width="1" height="11" fill="#c0c0c0"/>
<rect x="788" y="548" width="1" height="11" fill="#c0c0c0"/>
<rect x="796" y="547" width="1" height="12" fill="#c0c0c0"/>
<rect x="804" y="548" width="1" height="11" fill="#c0c0c0"/>
<rect x="812" y="550" width="1" height="9" fill="#c0c0c0"/>
<rect x="820" y="553" width="1" height="6" fill="#c0c0c0"/>
<rect x="828" y="555" width="1" height="4" fill="#c0c0c0"/>
<rect x="836" y="557" width="1" height="2" fill="#c0c0c0"/>
<rect x="844" y="558" width="1" height="1" fill="#c0c0c0"/>
<rect x="852" y="558" width="1" height="1" fill="#c0c0c0"/>
<rect x="860" y="558" width="1" height="2" fill="#c0c0c0"/>
<rect x="868" y="558" width="1" height="3" fill="#c0c0c0"/>
<rect x="876" y="558" width="1" height="4" fill="#c0c0c0"/>
<rect x="884" y="558" width="1" height="5" fill="#c0c0c0"/>
<rect x="892" y="558" width="1" height="5" fill="#c0c0c0"/>
<rect x="900" y="558" width="1" height="7" fill="#c0c0c0"/>
<rect x="908" y="558" width="1" height="9" fill="#c0c0c0"/>
<rect x="916" y="558" width="1" height="12" fill="#c0c0c0"/>
<rect x="924" y="558" width="1" height="14" fill="#c0c0c0"/>
<rect x="932" y="558" width="1" height="14" fill="#c0c0c0"/>
<rect x="940" y="558" width="1" height="15" fill="#c0c0c0"/>
<rect x="948" y="558" width="1" height="16" fill="#c0c0c0"/>
<rect x="956" y="558" width="1" height="17" fill="#c0c0c0"/>
<rect x="964" y="558" width="1" height="17" fill="#c0c0c0"/>
<rect x="972" y="558" width="1" height="16" fill="#c0c0c0"/>
<rect x="980" y="558" width="1" height="17" fill="#c0c0c0"/>
<rect x="988" y="558" width="1" height="17" fill="#c0c0c0"/>
<rect x="996" y="558" width="1" height="17" fill="#c0c0c0"/>
<rect x="1004" y="558" width="1" height="15" fill="#c0c0c0"/>
<rect x="1012" y="558" width="1" height="13" fill="#c0c0c0"/>
<rect x="1020" y="558" width="1" height="11" fill="#c0c0c0"/>
<rect x="1028" y="558" width="1" height="9" fill="#c0c0c0"/>
<rect x="1036" y="558" width="1" height="8" fill="#c0c0c0"/>
<rect x="1044" y="558" width="1" height="7" fill="#c0c0c0"/>
<rect x="1052" y="558" width="1" height="8" fill="#c0c0c0"/>
<rect x="1060" y="558" width="1" height="8" fill="#c0c0c0"/>
<rect x="1068" y="558" width="1" height="8" fill="#c0c0c0"/>
<rect x="1076" y="558" width="1" height="7" fill="#c0c0c0"/>
<rect x="1084" y="558" width="1" height="6" fill="#c0c0c0"/>
<rect x="1092" y="558" width="1" height="1" fill="#c0c0c0"/>
<rect x="1100" y="553" width="1" height="6" fill="#c0c0c0"/>
<rect x="1108" y="549" width="1" height="10" fill="#c0c0c0"/>
<rect x="1116" y="547" width="1" height="12" fill="#c0c0c0"/>
<rect x="1124" y="546" width="1" height="13" fill="#c0c0c0"/>
<rect x="1132" y="544" width="1" height="15" fill="#c0c0c0"/>
<rect x="1140" y="544" width="1" height="15" fill="#c0c0c0"/>
<rect x="1148" y="543" width="1" height="16" fill="#c0c0c0"/>
<rect x="1156" y="544" width="1" height="15" fill="#c0c0c0"/>
<rect x="1164" y="543" width="1" height="16" fill="#c0c0c0"/>
<rect x="1172" y="543" width="1" height="16" fill="#c0c0c0"/>
<rect x="1180" y="544" width="1" height="15" fill="#c0c0c0"/>
<rect x="1188" y="547" width="1" height="12" fill="#c0c0c0"/>
<rect x="1196" y="550" width="1" height="9" fill="#c0c0c0"/>
<rect x="1204" y="553" width="1" height="6" fill="#c0c0c0"/>
<rect x="1212" y="556" width="1" height="3" fill="#c0c0c0"/>
<rect x="1220" y="557" width="1" height="2" fill="#c0c0c0"/>
<rect x="1228" y="558" width="1" height="1" fill="#c0c0c0"/>
<rect x="1236" y="558" width="1" height="1" fill="#c0c0c0"/>
<rect x="1244" y="558" width="1" height="3" fill="#c0c0c0"/>
<rect x="1252" y="558" width="1" height="6" fill="#c0c0c0"/>
<rect x="1260" y="558" width="1" height="8" fill="#c0c0c0"/>
<rect x="1268" y="558" width="1" height="9" fill="#c0c0c0"/>
<rect x="1276" y="558" width="1" height="9" fill="#c0c0c0"/>
<rect x="1284" y="558" width="1" height="11" fill="#c0c0c0"/>
<rect x="1292" y="558" width="1" height="11" fill="#c0c0c0"/>
<rect x="1300" y="558" width="1" height="11" fill="#c0c0c0"/>
<rect x="1308" y="558" width="1" height="10" fill="#c0c0c0"/>
<rect x="1316" y="558" width="1" height="10" fill="#c0c0c0"/>
<rect x="1324" y="558" width="1" height="9" fill="#c0c0c0"/>
<rect x="1332" y="558" width="1" height="8" fill="#c0c0c0"/>
<rect x="1340" y="558" width="1" height="8" fill="#c0c0c0"/>
<rect x="1348" y="558" width="1" height="5" fill="#c0c0c0"/>
<rect x="1356" y="558" width="1" height="1" fill="#c0c0c0"/>
<rect x="1364" y="557" width="1" height="2" fill="#c0c0c0"/>
<rect x="1372" y="555" width="1" height="4" fill="#c0c0c0"/>
<rect x="1380" y="556" width="1" height="3" fill="#c0c0c0"/>
<rect x="1388" y="556" width="1" height="3" fill="#c0c0c0"/>
<rect x="1396" y="557" width="1" height="2" fill="#c0c0c0"/>
<rect x="1404" y="558" width="1" height="1" fill="#c0c0c0"/>
<rect x="1412" y="558" width="1" height="1" fill="#c0c0c0"/>
<rect x="1420" y="558" width="1" height="3" fill="#c0c0c0"/>
<rect x="1428" y="558" width="1" height="4" fill="#c0c0c0"/>
<rect x="1436" y="558" width="1" height="4" fill="#c0c0c0"/>
<rect x="1642" y="536" width="1" height="1" fill="#000"/>
<rect x="1642" y="558" width="1" height="1" fill="#000"/>
<rect x="1642" y="594" width="1" height="1" fill="#000"/>
</g>
<polyline points="12.5,592.3 30.5,591 53,588.7 75.5,587.1 98,586.4 113.7,585.5 127.2,584.2 138.5,579.9 152,574.7 165.5,568 174.5,562.8 181.2,558.5 190.2,553.8 201.5,550.7 210.5,548.6 230.7,548.6 242,550 255.5,552.7 273.5,554.5 289.2,556.3 300.5,559.4 318.5,561.2 332,565.7 345.5,568 363.5,569.8 377,569.1 388,568 399.2,565.3 410.5,562.4 421.7,560.1 433,555.6 444.2,552.2 455.5,548.2 466.7,545.5 478,542.8 491.5,541.4 518.5,541.4 532,543.2 550,545.5 568,547.7 590.5,550.4 601.7,553.4 613,555.2 626.5,557.2 640,559.4 653.5,561.2 676,561.2 689.5,559.7 703,559 725.5,557.2 748,555.2 768,553.6 779.2,552.2 790.5,550.4 804,548.9 822,548.2 835.5,549.5 849,551.8 864.7,554 880.5,556.7 894,559.4 912,561.2 925.5,564.6 939,565.7 948,568 963.7,570.2 981.7,572.5 993,573.4 1022.2,573.4 1038,571.4 1060.5,568.4 1083,565.7 1094.2,563.9 1105.5,560.8 1116.7,558.5 1128,555.6 1139.2,551.8 1148,549.5 1157,546.6 1170.5,544.4 1181.7,543.2 1193,543.2 1204.2,545 1215.5,546.6 1226.7,549.5 1238,551.6 1249.2,554.5 1260.5,557.4 1274,560.1 1287.5,562.4 1298.7,565.7 1314.5,567.3 1339.2,567.3 1350.5,566.2 1364,564.2 1382,561.2 1395.5,559.4 1406.7,557.9 1418,557.4 1436.4,557.4" fill="none" stroke="#ff0000" stroke-width="1" stroke-dasharray="3 3" class="c"/>
<text x="16.5" y="550.3" font-size="12.5" fill="#000" textLength="146.3" lengthAdjust="spacingAndGlyphs">MACD(12,26,9) -4.92 0.62</text>
<text x="1645" y="548.2" font-size="12.5" fill="#000" textLength="31.5" lengthAdjust="spacingAndGlyphs">35.12</text>
<text x="1645" y="562.8" font-size="12.5" fill="#000" textLength="24.2" lengthAdjust="spacingAndGlyphs">0.00</text>
<text x="1645" y="591.6" font-size="12.5" fill="#000" textLength="35.2" lengthAdjust="spacingAndGlyphs">-57.71</text>
<line x1="12" y1="637.5" x2="1641" y2="637.5" stroke="#c0c0c0" stroke-width="1" stroke-dasharray="3 3" class="c"/>
<line x1="12" y1="687.5" x2="1641" y2="687.5" stroke="#c0c0c0" stroke-width="1" stroke-dasharray="3 3" class="c"/>
<polyline points="12.5,684.4 20.5,686.7 28.5,685.5 36.5,677.4 44.5,681.5 52.5,681.5 60.5,678.6 68.5,684.2 76.5,685.5 84.5,686.7 92.5,690.5 100.5,687.6 108.5,686.4 116.5,662.4 124.5,665.3 132.5,642.8 140.5,639.4 148.5,638.1 156.5,640.3 164.5,650.4 172.5,655.2 180.5,658.5 188.5,663 196.5,659 204.5,651.6 212.5,661.9 220.5,663.5 228.5,668.4 236.5,668.4 244.5,667.3 252.5,658.3 260.5,660.6 268.5,666.4 276.5,666.4 284.5,666.4 292.5,676.3 300.5,675.2 308.5,680.4 316.5,680.4 324.5,677.4 332.5,671.8 340.5,665.7 348.5,670.2 356.5,661.7 364.5,661.2 372.5,658.3 380.5,661.2 388.5,649.5 396.5,648.2 404.5,654.9 412.5,659.4 420.5,648.9 428.5,647.3 436.5,641 444.5,638.7 452.5,646.6 460.5,653.4 468.5,654.5 476.5,650 484.5,658.3 492.5,661.7 500.5,656.7 508.5,655.2 516.5,655.2 524.5,651.1 532.5,661.2 540.5,663.5 548.5,659 556.5,655.2 564.5,660.1 572.5,663.9 580.5,669.1 588.5,672.5 596.5,671.4 604.5,673.6 612.5,669.6 620.5,666.4 628.5,666.4 636.5,663 644.5,667.5 652.5,659 660.5,651.1 668.5,654.9 676.5,659.4 684.5,657.2 692.5,663 700.5,664.6 708.5,658.5 716.5,658.5 724.5,655.6 732.5,653.4 740.5,659.4 748.5,646.6 756.5,645 764.5,654.5 772.5,649.5 780.5,651.6 788.5,651.6 796.5,647.3 804.5,663 812.5,667.5 820.5,667.5 828.5,667.5 836.5,670.7 844.5,666.4 852.5,666.4 860.5,666.4 868.5,672.5 876.5,675.9 884.5,666.4 892.5,667.5 900.5,678.6 908.5,680.4 916.5,686.7 924.5,685.5 932.5,677.4 940.5,677.4 948.5,681 956.5,682.6 964.5,675.2 972.5,676.5 980.5,681.5 988.5,680.4 996.5,677.4 1004.5,662.4 1012.5,662.4 1020.5,663.5 1028.5,662.4 1036.5,660.6 1044.5,669.6 1052.5,674.3 1060.5,670.2 1068.5,667.5 1076.5,668.4 1084.5,662.4 1092.5,635.4 1100.5,635.4 1108.5,639.4 1116.5,643.2 1124.5,644.4 1132.5,643.2 1140.5,647.3 1148.5,643.2 1156.5,647.3 1164.5,644.4 1172.5,652.2 1180.5,652.2 1188.5,666.4 1196.5,669.1 1204.5,672.5 1212.5,671.4 1220.5,670.2 1228.5,670.2 1236.5,671.4 1244.5,674.3 1252.5,682.2 1260.5,682.2 1268.5,681.5 1276.5,682.2 1284.5,678.6 1292.5,678.6 1300.5,681.5 1308.5,671.4 1316.5,667.5 1324.5,670.2 1332.5,670.2 1340.5,666.4 1348.5,644.4 1356.5,641.7 1364.5,645.9 1372.5,648.2 1380.5,662.4 1388.5,662.4 1396.5,664.6 1404.5,670.2 1412.5,676.3 1420.5,670.2 1428.5,668.4 1436.5,668.4" fill="none" stroke="#1e90ff" stroke-width="1" class="c"/>
<text x="16.5" y="613" font-size="12.5" fill="#000" textLength="91" lengthAdjust="spacingAndGlyphs">RSI(14) 45.2285</text>
<g class="c">
<rect x="1642" y="599" width="1" height="1" fill="#000"/>
<rect x="1642" y="637" width="1" height="1" fill="#000"/>
<rect x="1642" y="687" width="1" height="1" fill="#000"/>
<rect x="1642" y="725" width="1" height="1" fill="#000"/>
</g>
<text x="1646" y="611.2" font-size="12.5" fill="#000" textLength="20.5" lengthAdjust="spacingAndGlyphs">100</text>
<text x="1644.5" y="642.3" font-size="12.5" fill="#000" textLength="13.5" lengthAdjust="spacingAndGlyphs">70</text>
<text x="1644.5" y="692.2" font-size="12.5" fill="#000" textLength="13.5" lengthAdjust="spacingAndGlyphs">30</text>
<text x="1646" y="723" font-size="12.5" fill="#000">0</text>
<g class="c">
<rect x="12" y="727" width="1" height="3" fill="#000"/>
<rect x="108" y="727" width="1" height="3" fill="#000"/>
<rect x="204" y="727" width="1" height="3" fill="#000"/>
<rect x="300" y="727" width="1" height="3" fill="#000"/>
<rect x="396" y="727" width="1" height="3" fill="#000"/>
<rect x="492" y="727" width="1" height="3" fill="#000"/>
<rect x="588" y="727" width="1" height="3" fill="#000"/>
<rect x="684" y="727" width="1" height="3" fill="#000"/>
<rect x="780" y="727" width="1" height="3" fill="#000"/>
<rect x="876" y="727" width="1" height="3" fill="#000"/>
<rect x="972" y="727" width="1" height="3" fill="#000"/>
<rect x="1068" y="727" width="1" height="3" fill="#000"/>
<rect x="1164" y="727" width="1" height="3" fill="#000"/>
<rect x="1260" y="727" width="1" height="3" fill="#000"/>
<rect x="1356" y="727" width="1" height="3" fill="#000"/>
</g>
<text x="11.3" y="742" font-size="12.8" fill="#000">16 Oct 2018</text>
<text x="107.3" y="742" font-size="12.8" fill="#000">19 Oct 02:30</text>
<text x="203.3" y="742" font-size="12.8" fill="#000">24 Oct 02:30</text>
<text x="299.3" y="742" font-size="12.8" fill="#000">29 Oct 02:30</text>
<text x="395.3" y="742" font-size="12.8" fill="#000">1 Nov 02:30</text>
<text x="491.3" y="742" font-size="12.8" fill="#000">6 Nov 02:30</text>
<text x="587.3" y="742" font-size="12.8" fill="#000">9 Nov 02:30</text>
<text x="683.3" y="742" font-size="12.8" fill="#000">14 Nov 02:30</text>
<text x="779.3" y="742" font-size="12.8" fill="#000">19 Nov 02:30</text>
<text x="875.3" y="742" font-size="12.8" fill="#000">22 Nov 02:30</text>
<text x="971.3" y="742" font-size="12.8" fill="#000">27 Nov 02:30</text>
<text x="1067.3" y="742" font-size="12.8" fill="#000">30 Nov 02:30</text>
<text x="1163.3" y="742" font-size="12.8" fill="#000">5 Dec 02:30</text>
<text x="1259.3" y="742" font-size="12.8" fill="#000">10 Dec 02:30</text>
<text x="1355.3" y="742" font-size="12.8" fill="#000">13 Dec 02:30</text>
</svg></body></html>
